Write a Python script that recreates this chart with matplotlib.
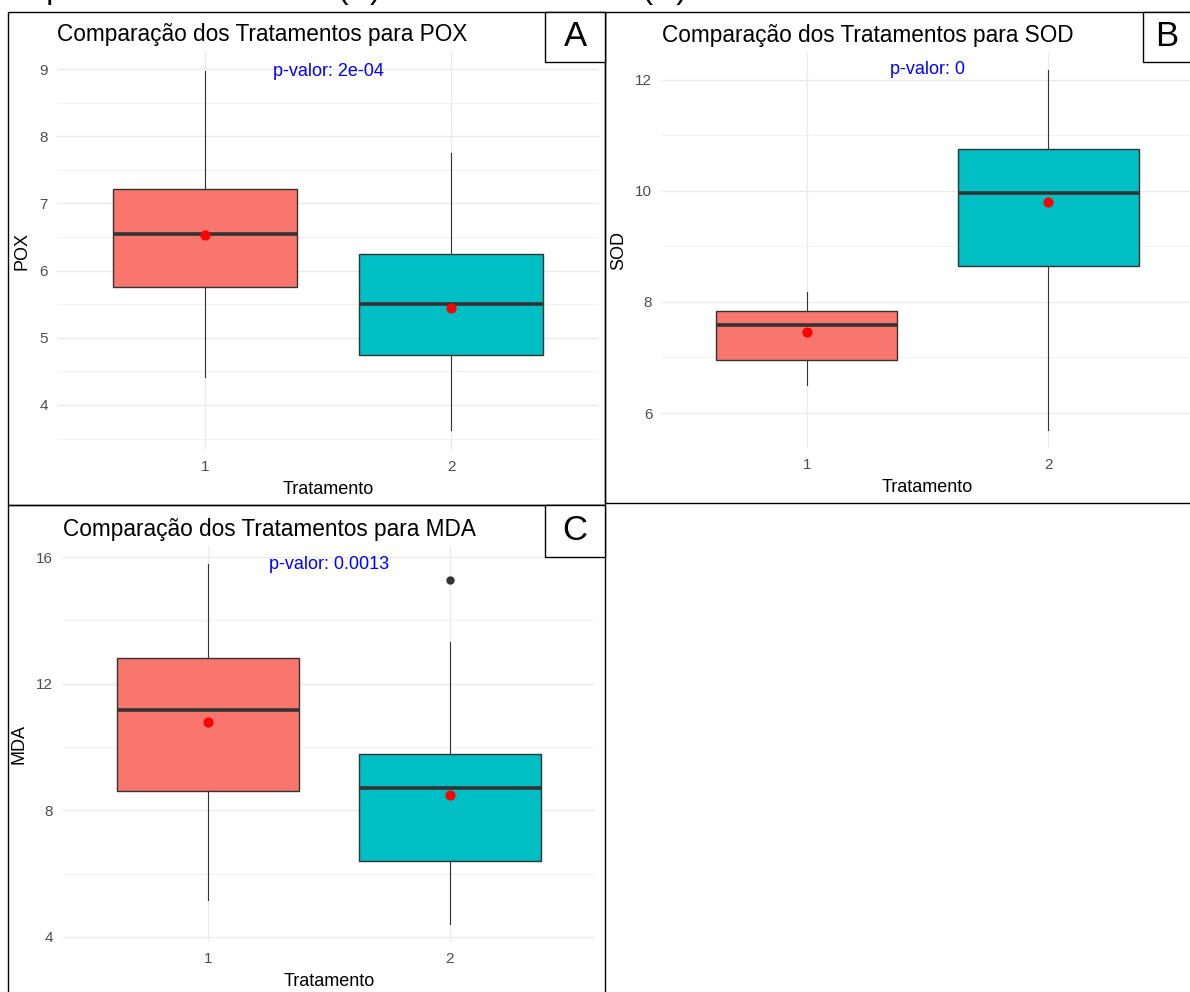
import matplotlib

matplotlib.use("Agg")
import matplotlib.pyplot as plt
from matplotlib.patches import Rectangle

plt.rcParams["font.family"] = ["Liberation Sans", "DejaVu Sans"]

W, H = 1190, 992

# Box statistics (group 1, group 2)
tratamentos = [1, 2]
cores = ["#F8766D", "#00BFC4"]

pox_q1 = [5.76, 4.74]
pox_med = [6.54, 5.51]
pox_q3 = [7.22, 6.25]
pox_lo = [4.42, 3.63]
pox_hi = [8.97, 7.75]
pox_mean = [6.53, 5.45]
pox_out = [[], []]

sod_q1 = [6.95, 8.65]
sod_med = [7.59, 9.96]
sod_q3 = [7.84, 10.76]
sod_lo = [6.50, 5.69]
sod_hi = [8.18, 12.18]
sod_mean = [7.46, 9.80]
sod_out = [[], []]

mda_q1 = [8.60, 6.40]
mda_med = [11.18, 8.69]
mda_q3 = [12.82, 9.77]
mda_lo = [5.16, 4.41]
mda_hi = [15.78, 13.32]
mda_mean = [10.80, 8.47]
mda_out = [[], [15.27]]

p_valores = ["2e-04", "0", "0.0013"]


def px_axes(fig, x0, y0, x1, y1):
    """Add axes using pixel coordinates measured from the top-left corner."""
    return fig.add_axes([x0 / W, 1 - y1 / H, (x1 - x0) / W, (y1 - y0) / H])


def px_rect(fig, x0, y0, x1, y1, **kw):
    r = Rectangle((x0 / W, 1 - y1 / H), (x1 - x0) / W, (y1 - y0) / H,
                  transform=fig.transFigure, **kw)
    fig.patches.append(r)
    return r


def painel(ax, nome, q1, med, q3, lo, hi, mean, out, pval, ylim, yticks, yminor):
    stats = []
    for i in range(len(tratamentos)):
        stats.append({"q1": q1[i], "med": med[i], "q3": q3[i],
                      "whislo": lo[i], "whishi": hi[i], "fliers": out[i]})

    # grid in theme_minimal style
    for y in yticks:
        ax.axhline(y, color="#EBEBEB", lw=1.0, zorder=0)
    for y in yminor:
        ax.axhline(y, color="#F2F2F2", lw=0.8, zorder=0)
    for x in tratamentos:
        ax.axvline(x, color="#EBEBEB", lw=1.0, zorder=0)

    bp = ax.bxp(stats, positions=tratamentos, widths=0.75, patch_artist=True,
                showcaps=False,
                boxprops=dict(edgecolor="#333333", linewidth=1.0),
                medianprops=dict(color="#333333", linewidth=2.6),
                whiskerprops=dict(color="#333333", linewidth=0.8),
                flierprops=dict(marker="o", markerfacecolor="#333333",
                                markeredgecolor="#333333", markersize=5))
    for patch, c in zip(bp["boxes"], cores):
        patch.set_facecolor(c)
    for artist in bp["boxes"] + bp["medians"] + bp["whiskers"] + bp["fliers"]:
        artist.set_zorder(2)

    ax.scatter(tratamentos, mean, color="red", s=40, zorder=3)

    ax.text(1.5, max(hi), f"p-valor: {pval}", color="blue", fontsize=13,
            ha="center", va="center", zorder=4)

    ax.set_xlim(0.4, 2.6)
    ax.set_ylim(*ylim)
    ax.set_xticks(tratamentos)
    ax.set_xticklabels([str(t) for t in tratamentos])
    ax.set_yticks(yticks)
    ax.tick_params(length=0, labelsize=11, labelcolor="#4D4D4D", pad=7)
    for s in ax.spines.values():
        s.set_visible(False)
    ax.set_facecolor("none")
    ax.set_xlabel("Tratamento", fontsize=13, labelpad=5)
    ax.set_ylabel(nome, fontsize=13, labelpad=6)
    ax.set_title(f"Comparação dos Tratamentos para {nome}", fontsize=16.3,
                 loc="left", pad=7)


fig = plt.figure(figsize=(W / 100, H / 100), dpi=100)

# cut-off caption at the top of the page
fig.text(0.006, 1 + 2 / H, "Superóxido Dismutase (B) e Malondialdeído (C)",
         fontsize=23, va="baseline", ha="left")

# panel frames
px_rect(fig, 8, 12, 605, 505, fill=False, edgecolor="black", lw=1.0)
px_rect(fig, 605, 12, 1196, 503, fill=False, edgecolor="black", lw=1.0)
px_rect(fig, 8, 505, 605, 998, fill=False, edgecolor="black", lw=1.0)

axA = px_axes(fig, 57.4, 51, 598.6, 450)
painel(axA, "POX", pox_q1, pox_med, pox_q3, pox_lo, pox_hi, pox_mean, pox_out,
       p_valores[0], (3.33, 9.27), [4, 5, 6, 7, 8, 9], [3.5, 4.5, 5.5, 6.5, 7.5, 8.5])

axB = px_axes(fig, 662, 52, 1193, 448)
painel(axB, "SOD", sod_q1, sod_med, sod_q3, sod_lo, sod_hi, sod_mean, sod_out,
       p_valores[1], (5.37, 12.5), [6, 8, 10, 12], [7, 9, 11])

axC = px_axes(fig, 62.8, 546, 595, 942)
painel(axC, "MDA", mda_q1, mda_med, mda_q3, mda_lo, mda_hi, mda_mean, mda_out,
       p_valores[2], (3.84, 16.35), [4, 8, 12, 16], [6, 10, 14])

# letter tags
for (x0, y0, x1, y1), letra in [((545, 12, 605, 62), "A"),
                                 ((1143, 12, 1196, 62), "B"),
                                 ((545, 505, 605, 557), "C")]:
    px_rect(fig, x0, y0, x1, y1, facecolor="white", edgecolor="black", lw=1.0, zorder=5)
    fig.text(((x0 + min(x1, W)) / 2) / W, 1 - ((y0 + y1) / 2) / H, letra,
             fontsize=25, ha="center", va="center", zorder=6)

fig.savefig("out.png", dpi=100)
